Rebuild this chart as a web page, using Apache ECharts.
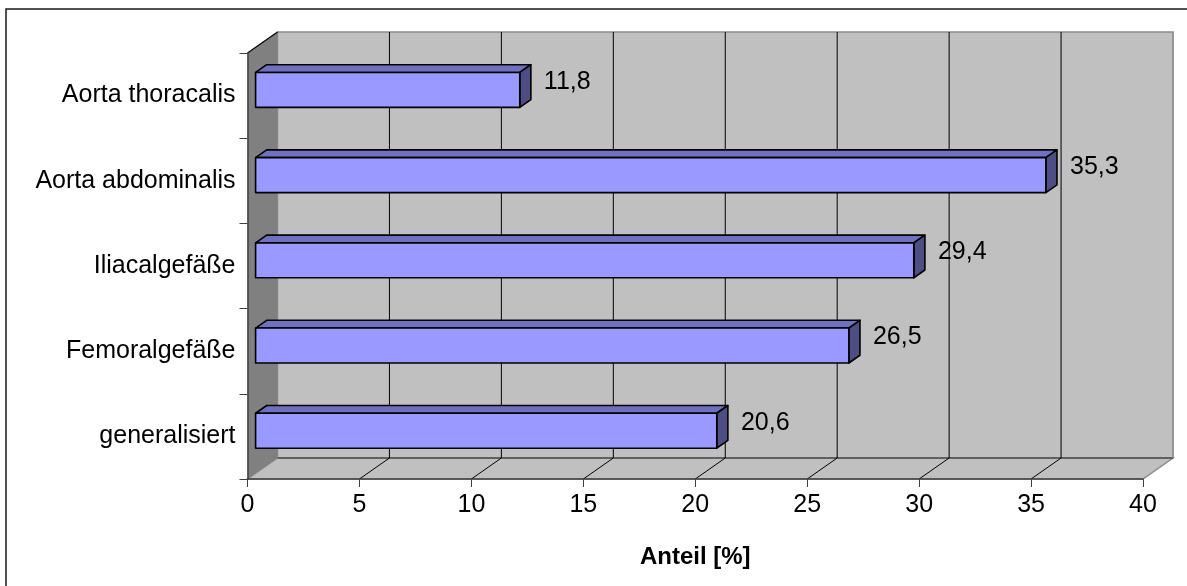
<!DOCTYPE html>
<html>
<head>
<meta charset="utf-8">
<script src="https://cdn.jsdelivr.net/npm/echarts@6/dist/echarts.min.js"></script>
<style>
html,body{margin:0;padding:0;background:#fff;}
#chart{width:1187px;height:586px;}
</style>
</head>
<body>
<div id="chart"></div>
<script>
// Data (bottom to top)
const categories = ['generalisiert', 'Femoralgefäße', 'Iliacalgefäße', 'Aorta abdominalis', 'Aorta thoracalis'];
const values = [20.6, 26.5, 29.4, 35.3, 11.8];
const valueLabels = ['20,6', '26,5', '29,4', '35,3', '11,8'];
const xTicks = [0, 5, 10, 15, 20, 25, 30, 35, 40];
const axisTitle = 'Anteil [%]';

const FONT = '"Liberation Sans", Arial, sans-serif';
const DEPTH = [30, -21];      // 3D depth offset of the back wall
const F1 = 0.27, F2 = 0.64;   // bar front / back depth fractions
const BAR_FRAC = 0.41;        // bar thickness relative to band

const chart = echarts.init(document.getElementById('chart'), null, {renderer: 'canvas'});

function wallsRender(params, api) {
  const cs = params.coordSys;
  const v = api.value(0);
  const x = api.coord([v, 0])[0];
  const top = cs.y, bot = cs.y + cs.height;
  const dx = DEPTH[0], dy = DEPTH[1];
  const children = [];
  if (params.dataIndex === 0) {
    const xl = cs.x, xr = cs.x + cs.width;
    children.push({type: 'rect', shape: {x: xl + dx, y: top + dy, width: cs.width, height: cs.height},
      style: {fill: '#c0c0c0', stroke: '#8c8c8c', lineWidth: 1.5}});
    children.push({type: 'polygon', shape: {points: [[xl, bot], [xr, bot], [xr + dx, bot + dy], [xl + dx, bot + dy]]},
      style: {fill: '#c0c0c0', stroke: '#8c8c8c', lineWidth: 1.5}});
    children.push({type: 'line', shape: {x1: xl + dx, y1: bot + dy, x2: xr + dx, y2: bot + dy},
      style: {stroke: '#606060', lineWidth: 2}});
    children.push({type: 'polygon', shape: {points: [[xl, bot], [xl + dx, bot + dy], [xl + dx, top + dy], [xl, top]]},
      style: {fill: '#808080', stroke: null}});
    children.push({type: 'line', shape: {x1: xl, y1: top, x2: xl + dx, y2: top + dy},
      style: {stroke: '#000', lineWidth: 1.2}});
  }
  if (v > 0) {
    children.push({type: 'line', shape: {x1: x + dx, y1: bot + dy, x2: x + dx, y2: top + dy},
      style: {stroke: v === xTicks[xTicks.length - 1] ? '#8c8c8c' : '#000', lineWidth: 1}});
    if (v !== xTicks[xTicks.length - 1]) {
      children.push({type: 'line', shape: {x1: x, y1: bot, x2: x + dx, y2: bot + dy},
        style: {stroke: '#000', lineWidth: 1}});
    }
  }
  return {type: 'group', children: children};
}

function barRender(params, api) {
  const val = api.value(0), idx = api.value(1);
  const c = api.coord([val, idx]);
  const c0 = api.coord([0, idx]);
  const band = api.size([0, 1])[1];
  const h = band * BAR_FRAC;
  const ox = DEPTH[0] * F1, oy = DEPTH[1] * F1;
  const ddx = DEPTH[0] * (F2 - F1), ddy = DEPTH[1] * (F2 - F1);
  const x0 = c0[0] + ox, x1 = c[0] + ox;
  const yc = c[1] + oy;
  const t = yc - h / 2, b = yc + h / 2;
  const edge = {stroke: '#000', lineWidth: 1.6, lineJoin: 'round'};
  return {type: 'group', children: [
    {type: 'polygon', shape: {points: [[x0, t], [x1, t], [x1 + ddx, t + ddy], [x0 + ddx, t + ddy]]},
      style: Object.assign({fill: '#7070c0'}, edge)},
    {type: 'polygon', shape: {points: [[x1, t], [x1 + ddx, t + ddy], [x1 + ddx, b + ddy], [x1, b]]},
      style: Object.assign({fill: '#4e4e84'}, edge)},
    {type: 'rect', shape: {x: x0, y: t, width: x1 - x0, height: h},
      style: Object.assign({fill: '#9999ff'}, edge)},
    {type: 'text', x: x1 + ddx + 13, y: yc - 8,
      style: {text: valueLabels[params.dataIndex], fill: '#000', font: '25px ' + FONT,
        textAlign: 'left', textVerticalAlign: 'middle'}}
  ]};
}

const option = {
  backgroundColor: '#fff',
  animation: false,
  textStyle: {fontFamily: FONT},
  graphic: [{type: 'rect', shape: {x: 6, y: 9, width: 1300, height: 700},
    style: {fill: 'none', stroke: '#1a1a1a', lineWidth: 1.5}, z: 100, silent: true}],
  grid: {left: 247.5, right: 44, top: 53, bottom: 107, containLabel: false},
  xAxis: {
    type: 'value', min: 0, max: 40, interval: 5, z: 10,
    axisLine: {show: true, lineStyle: {color: '#404040', width: 1.5}},
    axisTick: {show: true, length: 8, lineStyle: {color: '#404040'}},
    splitLine: {show: false},
    axisLabel: {fontSize: 25, color: '#000', margin: 14, fontFamily: FONT},
    name: axisTitle, nameLocation: 'middle', nameGap: 66,
    nameTextStyle: {fontSize: 24, fontWeight: 'bold', color: '#000', fontFamily: FONT}
  },
  yAxis: {
    type: 'category', data: categories, z: 10,
    axisLine: {show: true, lineStyle: {color: '#404040', width: 1.5}},
    axisTick: {show: true, length: 8, lineStyle: {color: '#404040'}},
    splitLine: {show: false},
    axisLabel: {fontSize: 25, color: '#000', margin: 12, fontFamily: FONT}
  },
  series: [
    {type: 'custom', renderItem: wallsRender, data: xTicks.map(v => [v]), encode: {x: 0}, z: 1, silent: true},
    {type: 'custom', renderItem: barRender, data: values.map((v, i) => [v, i]), encode: {x: 0, y: 1}, z: 3}
  ]
};
chart.setOption(option);
</script>
</body>
</html>
